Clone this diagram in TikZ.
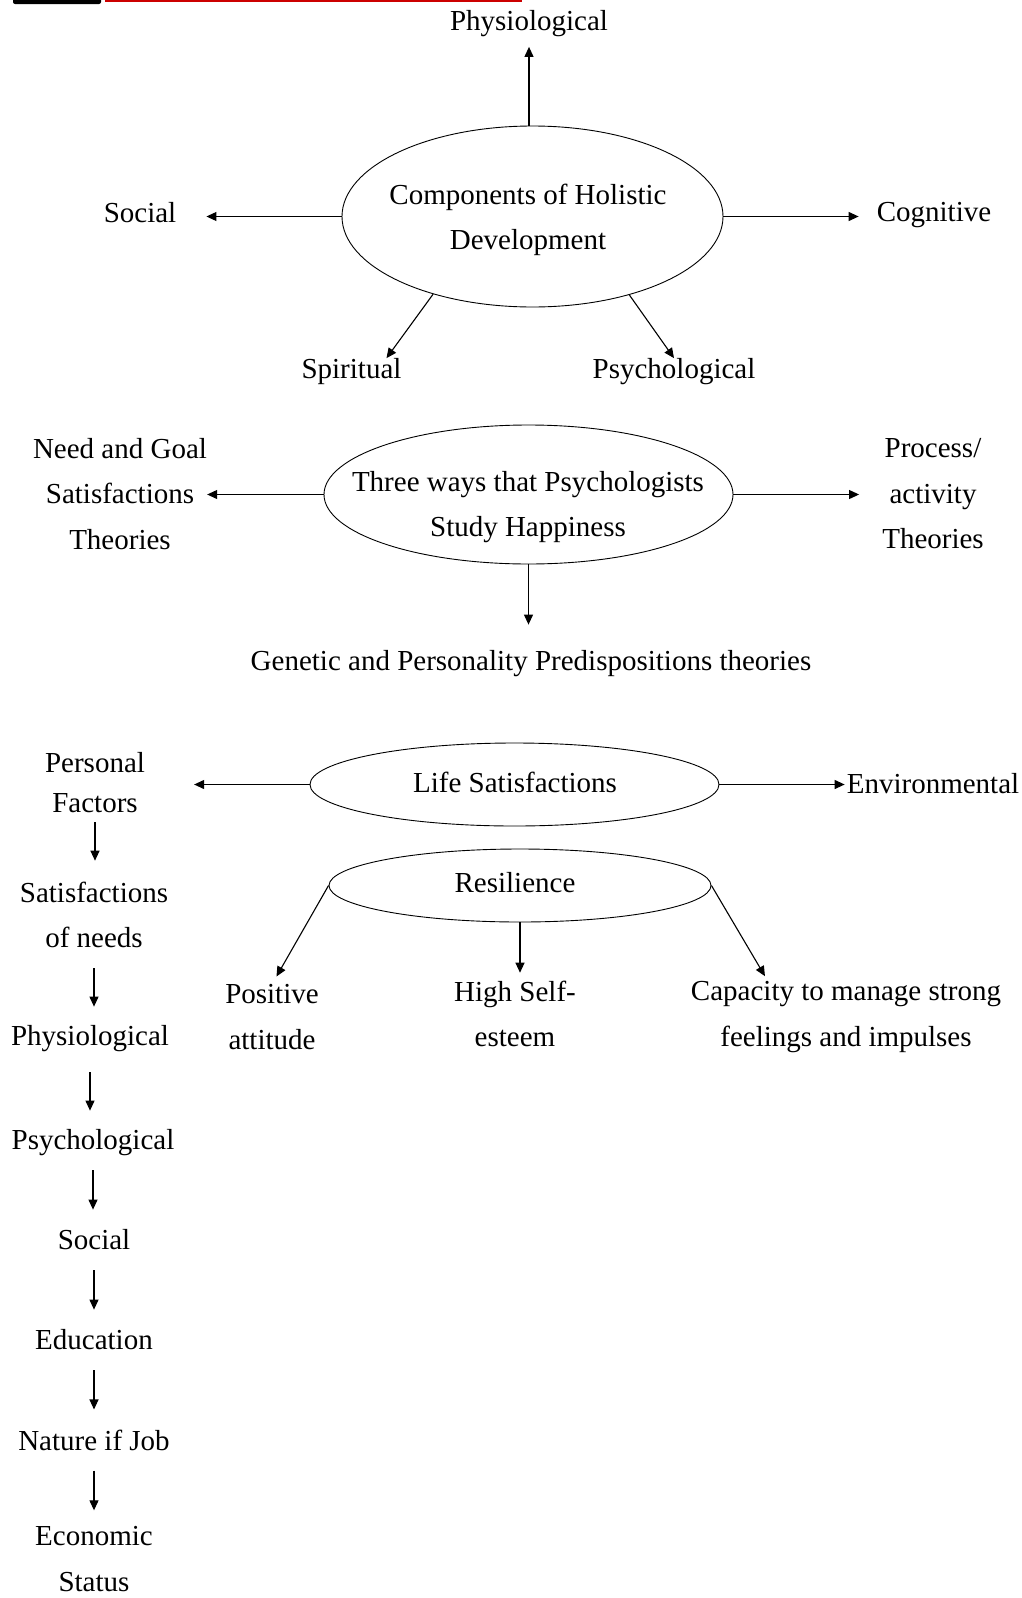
\documentclass[tikz,border=0pt]{standalone}
\usepackage{fontspec}
\setmainfont{Liberation Serif}
\usetikzlibrary{arrows.meta, positioning, calc, shapes.geometric}

\begin{document}
\begin{tikzpicture}[x=1pt, y=-1pt, >={Triangle[length=10pt,width=9pt]},
    every node/.style={font=\fontsize{29}{45.5}\selectfont, inner sep=0pt},
    txt/.style={align=center},
    oval/.style={ellipse, draw, line width=0.9pt},
    arr/.style={->, line width=1.1pt}]

\useasboundingbox (0,0) rectangle (1021,1598);

% cut page header
\fill[rounded corners=2pt] (13,-4) rectangle (101,4);
\draw[red!80!black, line width=2pt] (105,1) -- (522,1);

% Components of holistic development
\node[oval, minimum width=381pt, minimum height=181pt] (hol) at (532.5,216.5) {};
\node[txt] (holtxt) at (528,220) {Components of Holistic\\Development};
\node[txt] (physA) at (529,23.5) {Physiological};
\node[txt] (socA) at (140,213) {Social};
\node[txt] (cogA) at (934,215) {Cognitive};
\node[txt] (spiA) at (351.5,371.5) {Spiritual};
\node[txt] (psyA) at (674,371.5) {Psychological};

\draw[arr, shorten >=10pt] (hol.north -| physA) -- (physA.south);
\draw[arr, shorten >=30pt] (hol.west) -- (hol.west -| socA.east);
\draw[arr, shorten >=18pt] (hol.east) -- (hol.east -| cogA.west);
\draw[arr] (hol.218) -- ($(spiA.north)+(35,0)$);
\draw[arr] (hol.321) -- (psyA.north);

% Three ways of studying happiness
\node[oval, minimum width=409pt, minimum height=139pt] (three) at (528.5,494.5) {};
\node[txt] (threetxt) at (528,507) {Three ways that Psychologists\\Study Happiness};
\node[txt] (needA) at (120,494) {Need and Goal\\Satisfactions\\Theories};
\node[txt] (procA) at (933,494) {Process/\\activity\\Theories};
\node[txt] (genA) at (531,664) {Genetic and Personality Predispositions theories};

\draw[arr] (three.west) -- (three.west -| needA.east);
\draw[arr, shorten >=23pt] (three.east) -- (three.east -| procA.west);
\draw[arr, shorten >=26pt] (three.south) -- (three.south |- genA.north);

% Life satisfactions
\node[oval, minimum width=409pt, minimum height=83pt] (life) at (514.5,784.5) {};
\node[txt] (lifetxt) at (515,782) {Life Satisfactions};
\node[txt, font=\fontsize{29}{40}\selectfont] (persA) at (95,783) {Personal\\Factors};
\node[txt] (envA) at (933,784) {Environmental};

\draw[arr, shorten >=49pt] (life.west) -- (life.west -| persA.east);
\draw[arr, shorten >=2pt] (life.east) -- (life.east -| envA.west);

% Resilience
\node[oval, minimum width=382pt, minimum height=73pt] (resi) at (520,885.5) {};
\node[txt] (resitxt) at (515,883) {Resilience};
\node[txt] (posA) at (272,1017) {Positive\\attitude};
\node[txt] (highA) at (515,1014) {High Self-\\esteem};
\node[txt] (capA) at (846,1017) {Capacity to manage strong\\feelings and impulses};

\draw[arr, shorten >=9pt] (resi.west) -- (posA.north);
\draw[arr, shorten >=8pt] (resi.south) -- (resi.south |- highA.north);
\draw[arr, shorten >=6pt] (resi.east) -- ($(capA.north)+(-78,0)$);

% Personal factors chain
\node[txt] (satA) at (94,915) {Satisfactions\\of needs};
\node[txt] (physB) at (90,1039) {Physiological};
\node[txt] (psyB) at (93,1143) {Psychological};
\node[txt] (socB) at (94,1240) {Social};
\node[txt] (eduB) at (94,1340) {Education};
\node[txt] (jobB) at (94,1440) {Nature if Job};
\node[txt] (ecoB) at (94,1559) {Economic\\Status};

\draw[arr, shorten <=9pt, shorten >=21pt] (persA.south) -- (persA.south |- satA.north);
\draw[arr, shorten <=20pt, shorten >=19pt] (satA.south) -- (satA.south |- physB.north);
\draw[arr, shorten <=20pt, shorten >=19pt] (physB.south) -- (physB.south |- psyB.north);
\draw[arr, shorten <=14pt, shorten >=20pt] (psyB.south) -- (psyB.south |- socB.north);
\draw[arr, shorten <=20pt, shorten >=20pt] (socB.south) -- (socB.south |- eduB.north);
\draw[arr, shorten <=20pt, shorten >=20pt] (eduB.south) -- (eduB.south |- jobB.north);
\draw[arr, shorten <=20pt, shorten >=16pt] (jobB.south) -- (jobB.south |- ecoB.north);

\end{tikzpicture}
\end{document}
